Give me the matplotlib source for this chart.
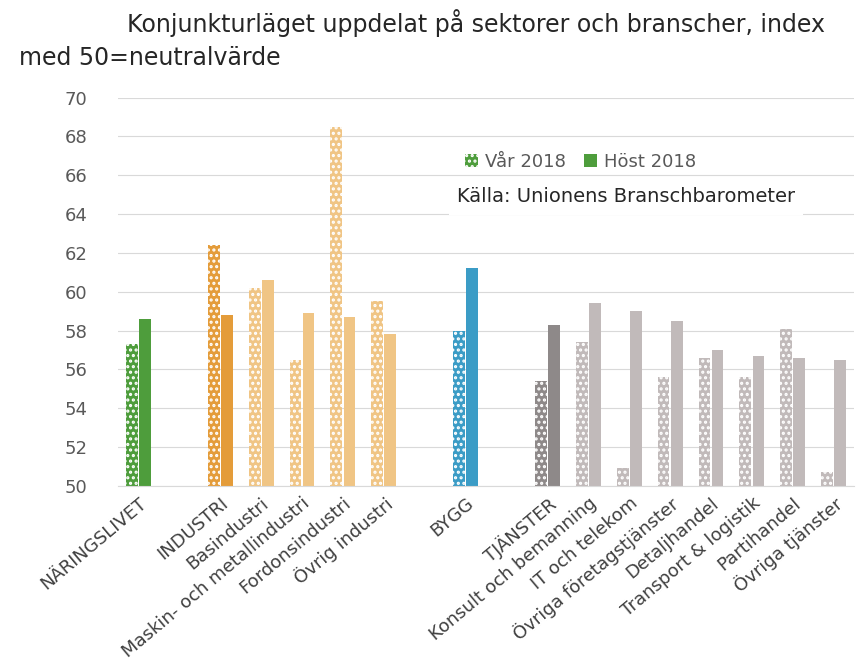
import matplotlib
matplotlib.use("Agg")
import matplotlib.pyplot as plt
import numpy as np
from matplotlib.patches import Patch

categories = ["NÄRINGSLIVET", "", "INDUSTRI", "Basindustri", "Maskin- och metallindustri",
              "Fordonsindustri", "Övrig industri", "", "BYGG", "", "TJÄNSTER",
              "Konsult och bemanning", "IT och telekom", "Övriga företagstjänster",
              "Detaljhandel", "Transport & logistik", "Partihandel", "Övriga tjänster"]
var2018 = [57.3, None, 62.4, 60.2, 56.5, 68.5, 59.5, None, 58.0, None, 55.4,
           57.4, 50.9, 55.6, 56.6, 55.6, 58.1, 50.7]
host2018 = [58.6, None, 58.8, 60.6, 58.9, 58.7, 57.8, None, 61.2, None, 58.3,
            59.4, 59.0, 58.5, 57.0, 56.7, 56.6, 56.5]
colors = ["#4e9d3c", None, "#e49c3a", "#f0c585", "#f0c585", "#f0c585", "#f0c585", None,
          "#3b9cc6", None, "#8e8989", "#c1baba", "#c1baba", "#c1baba", "#c1baba",
          "#c1baba", "#c1baba", "#c1baba"]

plt.rcParams['hatch.linewidth'] = 1.5
fig = plt.figure(figsize=(8.58, 6.6), dpi=100)
ax = fig.add_axes([0.1375, 0.264, 0.858, 0.588])
x = np.arange(len(categories))
w = 0.29
for i in range(len(categories)):
    if var2018[i] is None:
        continue
    ax.bar(x[i] - 0.16, var2018[i] - 50, w, bottom=50, color=colors[i],
           edgecolor="white", hatch="...", linewidth=0)
    ax.bar(x[i] + 0.16, host2018[i] - 50, w, bottom=50, color=colors[i], linewidth=0)

ax.set_ylim(50, 70)
ax.set_xlim(-0.5, len(categories) - 0.5)
ax.set_yticks(np.arange(50, 71, 2))
ax.tick_params(axis='y', length=0, labelsize=13, labelcolor="#595959", pad=22)
ax.set_xticks(x)
ax.set_xticklabels(categories, rotation=40, ha="right", rotation_mode="anchor",
                   fontsize=13, color="#404040")
ax.tick_params(axis='x', length=0, pad=6)
ax.grid(axis='y', color="#d9d9d9", linewidth=0.8)
ax.set_axisbelow(True)
for s in ax.spines.values():
    s.set_visible(False)
ax.spines['bottom'].set_visible(True)
ax.spines['bottom'].set_color("#d9d9d9")

handles = [Patch(facecolor="#4e9d3c", edgecolor="white", hatch="...", linewidth=0, label="Vår 2018"),
           Patch(facecolor="#4e9d3c", label="Höst 2018")]
ax.legend(handles=handles, loc="upper left", bbox_to_anchor=(0.45, 0.9), ncol=2,
          frameon=False, fontsize=13, handlelength=0.7, handleheight=0.7,
          columnspacing=1.0, handletextpad=0.4, labelcolor="#595959")
ax.text(0.69, 0.745, "Källa: Unionens Branschbarometer", transform=ax.transAxes,
        ha="center", va="center", fontsize=14, color="#262626",
        bbox=dict(facecolor="white", edgecolor="none", pad=6))

fig.text(0.555, 0.965, "Konjunkturläget uppdelat på sektorer och branscher, index",
         ha="center", va="center", fontsize=17, color="#262626")
fig.text(0.022, 0.912, "med 50=neutralvärde", ha="left", va="center",
         fontsize=17, color="#262626")
fig.savefig("out.png")
